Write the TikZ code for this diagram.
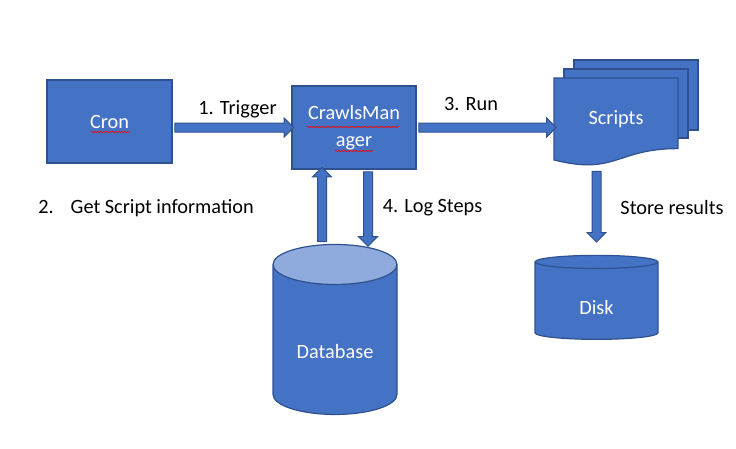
\documentclass[tikz,border=0pt]{standalone}
\usepackage{fontspec}
\setmainfont{Carlito}
\usetikzlibrary{calc,
shapes.geometric,
shapes.arrows,
decorations.pathmorphing,
positioning}

\definecolor{boxblue}{HTML}{4472C4}
\definecolor{boxedge}{HTML}{2F528F}
\definecolor{dbtop}{HTML}{8FAADC}

\newcommand*{\blockarrow}[2]{%
  \path let \p1 = (#1), \p2 = (#2),
    \n1 = {veclen(\x2-\x1,\y2-\y1)},
    \n2 = {atan2(\y2-\y1,\x2-\x1)} in
  node [flow arrow, minimum height = \n1, rotate = \n2]
  at ($(\p1)!.5!(\p2)$) {};}

\begin{document}
\begin{tikzpicture} [x = 1pt,
    y = -1pt,
    main node/.style={rectangle, fill = boxblue, draw = boxedge,
        line width = 1.2pt, text = white, align = center},
    store node/.style={cylinder, shape border rotate = 90, draw = boxedge,
        line width = 1.2pt, text = white,
        cylinder uses custom fill, cylinder body fill = boxblue},
    flow arrow/.style={single arrow, fill = boxblue, draw = boxedge,
        line width = 1pt, inner xsep = 0pt, inner ysep = 4pt,
        minimum width = 0pt, single arrow head extend = 5pt,
        single arrow tip angle = 90},
    spell/.style={red, line width = .6pt, decorate,
        decoration = {snake, amplitude = .8pt, segment length = 3pt}},
    every node/.style={font=\fontsize{20.3}{27}\selectfont}
  ]

  \useasboundingbox (0, 0) rectangle (736, 448);

  \node [main node,
    minimum width = 125,
    minimum height = 83
  ] (cron) at (109.5, 121.5) {Cron};

  \node [main node,
    minimum width = 124,
    minimum height = 83
  ] (cm) at (354, 127.5) {CrawlsMan\\ager};

  % stacked script pages
  \fill [boxblue, draw = boxedge, line width = 1.2pt]
  (574, 60) rectangle (698, 130);
  \fill [boxblue, draw = boxedge, line width = 1.2pt]
  (564, 69) rectangle (688, 138);
  \fill [boxblue, draw = boxedge, line width = 1.2pt]
  (554, 78) -- (678, 78) -- (678, 148.6)
  .. controls (616, 148.6) and (616, 175.5) .. (554, 160) -- cycle;

  \node [
    text = white,
    minimum width = 124,
    minimum height = 82
  ] (scripts) at (616, 119) {Scripts};

  \node [store node,
    minimum width = 124,
    minimum height = 170,
    aspect = .48,
    cylinder end fill = dbtop
  ] (db) at (335, 343) {\raisebox{-15pt}[0pt][0pt]{Database}};

  \node [store node,
    minimum width = 123,
    minimum height = 84,
    aspect = .32,
    cylinder end fill = boxblue
  ] (disk) at (596.5, 302) {\raisebox{-12pt}[0pt][0pt]{Disk}};

  \blockarrow{cron.east |- cm.west}{cm.west}
  \blockarrow{cm.east}{cm.east -| scripts.west}

  \coordinate (db up) at ([xshift = -13pt]db.top);
  \coordinate (db down) at ([xshift = 33pt]db.top);
  \blockarrow{db up}{db up |- cm.south}
  \blockarrow{db down |- cm.south}{db down}

  \coordinate (store from) at ($(scripts.south -| disk.top) + (0, 9)$);
  \coordinate (store to) at ($(disk.top) - (0, 15)$);
  \blockarrow{store from}{store to}

  \node (trigger) at (237.5, 109) {1. Trigger};
  \node (run) at (471, 104) {3. Run};
  \node (getinfo) at (146, 208) {2.\hspace{17pt}Get Script information};
  \node (logsteps) at (432.5, 208) {4. Log Steps};
  \node (results) at (672, 208) {Store results};

  \draw [spell] (91, 132) -- (130, 132);
  \draw [spell] (307, 127) -- (399, 127);
  \draw [spell] (335, 151) -- (373, 151);

\end{tikzpicture}
\end{document}
